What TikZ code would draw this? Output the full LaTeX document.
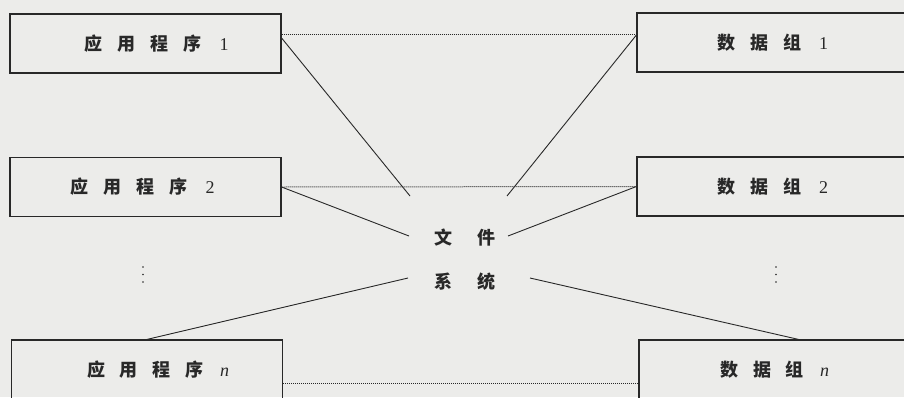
\documentclass[tikz,border=0pt]{standalone}
\usepackage{fontspec}
\setmainfont{Liberation Serif}
\newfontfamily\cjk{Noto Sans CJK SC}
\usetikzlibrary{positioning}
\definecolor{paper}{RGB}{236,236,234}
\definecolor{ink}{RGB}{40,40,40}

\begin{document}
\begin{tikzpicture}[x=1pt,y=-1pt]
\tikzset{box/.style={draw=ink, line width=1.2pt, minimum width=271pt, minimum height=59pt, inner sep=0pt, text=ink, font=\fontsize{18}{20}\selectfont\cjk\bfseries},
	link/.style={draw=ink, line width=0.9pt},
	dots/.style={draw=ink, line width=1pt, densely dotted},
	fstext/.style={font=\fontsize{18}{44}\selectfont\cjk\bfseries, text=ink, align=center, inner sep=0pt}}
				\fill[paper] (0,0) rectangle (904,397);
				\useasboundingbox (0,0) rectangle (904,397);
				% application programs
				\node[box] (app1) at (145.5,43.5) {\hspace{22pt}应\hspace{15pt}用\hspace{15pt}程\hspace{15pt}序\hspace{18pt}{\rmfamily\mdseries 1}};
				\node[box] (app2) at (145.5,187) {\hspace{-6pt}应\hspace{15pt}用\hspace{15pt}程\hspace{15pt}序\hspace{18pt}{\rmfamily\mdseries 2}};
				\node[box] (appn) at (147,369.5) {\hspace{22pt}应\hspace{15pt}用\hspace{15pt}程\hspace{15pt}序\hspace{16pt}{\rmfamily\mdseries\itshape n}};
				% data groups
				\node[box] (data1) at (772.5,42.5) {数\hspace{15pt}据\hspace{15pt}组\hspace{18pt}{\rmfamily\mdseries 1}};
				\node[box] (data2) at (772.5,186.5) {数\hspace{15pt}据\hspace{15pt}组\hspace{18pt}{\rmfamily\mdseries 2}};
				\node[box] (datan) at (774.5,369.5) {数\hspace{15pt}据\hspace{15pt}组\hspace{16pt}{\rmfamily\mdseries\itshape n}};
				% file system
				\node[fstext] (fs) at (465,259.5) {文\hspace{25pt}件\\系\hspace{25pt}统};
				\coordinate (fs1) at (410,196);
				\coordinate (fs2) at (507,196);
				\coordinate (fs3) at (409,236);
				\coordinate (fs4) at (508,236);
				\coordinate (fs5) at (408,278);
				\coordinate (fs6) at (530,278);
				% vertical dots
				\foreach \x in {143,776}
					\foreach \y in {267,274.5,282}
						\fill[ink] (\x,\y) circle (0.9pt);
				% dotted links
				\draw[dots] ([yshift=9.5pt]app1.east) -- ([yshift=8.5pt]data1.west);
				\draw[dots] (app2.east) -- (data2.west);
				\draw[dots] ([yshift=-13.5pt]appn.east) -- ([yshift=-13.5pt]datan.west);
				% solid links
				\draw[link] ([yshift=5.5pt]app1.east) -- (fs1);
				\draw[link] ([yshift=7.5pt]data1.west) -- (fs2);
				\draw[link] (app2.east) -- (fs3);
				\draw[link] (data2.west) -- (fs4);
				\draw[link] (appn.north) -- (fs5);
				\draw[link] ([xshift=24pt]datan.north) -- (fs6);
\end{tikzpicture}
\end{document}
